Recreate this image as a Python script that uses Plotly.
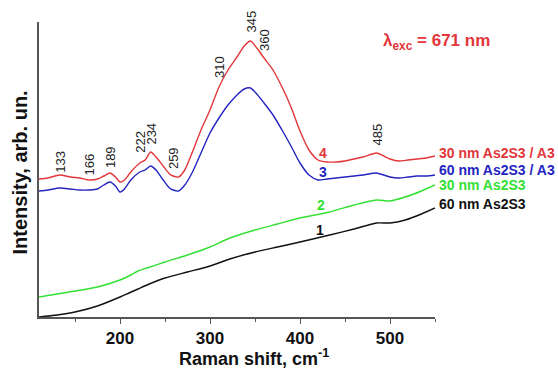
import plotly.graph_objects as go

# ---- data ----
x_top = [110, 120, 133, 145, 155, 166, 175, 182, 189, 195, 200, 205, 212, 222, 228, 234,
         240, 248, 255, 259, 265, 272, 280, 290, 300, 310, 320, 330, 338, 345, 352, 360,
         370, 380, 390, 400, 410, 420, 430, 440, 450, 460, 470, 485, 493, 500, 510, 520,
         530, 540, 550]
y_red = [138, 139, 142, 140, 139, 137, 138, 141, 144, 140, 135, 137, 145, 154, 157, 165,
         160, 151, 143, 141, 140, 147, 164, 187, 207, 230, 247, 260, 271, 276, 269, 259,
         247, 230, 210, 186, 167, 157, 155, 155, 156, 158, 160, 164, 161, 158, 156, 157,
         158, 159, 161]
y_blue = [126, 127, 129, 128, 127, 127, 128, 132, 135, 131, 125, 128, 137, 145, 147, 151,
          147, 137, 129, 127, 126, 132, 144, 164, 184, 199, 212, 222, 228, 229, 223, 214,
          202, 187, 171, 154, 142, 137, 138, 139, 140, 141, 142, 144, 142, 140, 139, 140,
          141, 141, 142]
x_bot = [110, 130, 150, 175, 200, 210, 220, 230, 250, 275, 300, 322, 350, 375, 400, 433,
         460, 485, 500, 517, 535, 550]
y_green = [20, 23, 26, 30, 37, 41, 46, 49, 55, 62, 70, 79, 87, 93, 99, 105,
           112, 117, 116, 120, 126, 132]
y_black = [0, 2, 5, 11, 20, 24, 28, 32, 39, 45, 51, 58, 65, 70, 75, 82,
           88, 94, 94, 97, 103, 109]

series_names = ["30 nm As2S3 / A3", "60 nm As2S3 / A3", "30 nm As2S3", "60 nm As2S3"]
series_numbers = ["4", "3", "2", "1"]
peak_labels = [133, 166, 189, 222, 234, 259, 310, 345, 360, 485]
peak_label_base = [142, 140, 147, 162, 170, 146, 237, 282, 264, 169]

colors = ["#e2363a", "#2424c0", "#34e034", "#111111"]

fig = go.Figure()
for xs, ys, c, n in [(x_top, y_red, colors[0], series_names[0]),
                     (x_top, y_blue, colors[1], series_names[1]),
                     (x_bot, y_green, colors[2], series_names[2]),
                     (x_bot, y_black, colors[3], series_names[3])]:
    fig.add_trace(go.Scatter(x=xs, y=ys, mode="lines", name=n,
                             line=dict(color=c, width=1.4, shape="spline", smoothing=0.7),
                             showlegend=False, hoverinfo="skip"))

FONT = "Liberation Sans, Arial, sans-serif"
Y_TOP = 295.0
ann = []
# peak labels (rotated)
for p, b in zip(peak_labels, peak_label_base):
    ann.append(dict(x=p, y=b, xref="x", yref="y", text=str(p), textangle=-90,
                    showarrow=False, xanchor="center", yanchor="bottom",
                    font=dict(family=FONT, size=13, color="#222")))
# series names at right (paper coords, outside plot area)
name_y = [164, 147, 132, 113]
for n, yy, c in zip(series_names, name_y, colors):
    ann.append(dict(x=1.004, y=yy / Y_TOP, xref="paper", yref="paper", text=n,
                    showarrow=False, xanchor="left", yanchor="middle",
                    font=dict(family=FONT, size=14, color=c, weight="bold")))
# curve numbers
num_pos = [(425, 164), (425, 145), (423, 112), (422, 87)]
for n, (xx, yy), c in zip(series_numbers, num_pos, colors):
    ann.append(dict(x=xx, y=yy, xref="x", yref="y", text=n, showarrow=False,
                    xanchor="center", yanchor="middle",
                    font=dict(family=FONT, size=14, color=c, weight="bold")))
# excitation wavelength
ann.append(dict(x=490, y=275, xref="x", yref="y", text="λ<sub>exc</sub> = 671 nm",
                showarrow=False, xanchor="left", yanchor="middle",
                font=dict(family=FONT, size=17, color="#e2363a", weight="bold")))
# axis titles
ann.append(dict(x=0.543, y=-0.136, xref="paper", yref="paper",
                text="Raman shift, cm<sup>-1</sup>",
                showarrow=False, xanchor="center", yanchor="middle",
                font=dict(family=FONT, size=18, color="#111", weight="bold")))
ann.append(dict(x=-0.048, y=0.49, xref="paper", yref="paper", text="Intensity, arb. un.",
                textangle=-90, showarrow=False, xanchor="center", yanchor="middle",
                font=dict(family=FONT, size=20, color="#111", weight="bold")))

fig.update_layout(
    width=558, height=369,
    margin=dict(l=39, r=123, t=22, b=52),
    paper_bgcolor="white", plot_bgcolor="white",
    annotations=ann,
    xaxis=dict(range=[110, 550], showgrid=False, zeroline=False,
               showline=True, linecolor="#555", linewidth=1.6,
               ticks="outside", ticklen=5, tickwidth=1.4, tickcolor="#555",
               tick0=200, dtick=100,
               tickfont=dict(family=FONT, size=17, color="#111", weight="bold"),
               minor=dict(ticks="outside", ticklen=3, tickwidth=1.2, tickcolor="#555",
                          tick0=150, dtick=100)),
    yaxis=dict(range=[0, Y_TOP], showgrid=False, zeroline=False, showticklabels=False,
               showline=True, linecolor="#555", linewidth=1.6, ticks=""),
)
fig.write_html("out.html", config={"displayModeBar": False},
               post_script="document.body.style.margin='0';")
